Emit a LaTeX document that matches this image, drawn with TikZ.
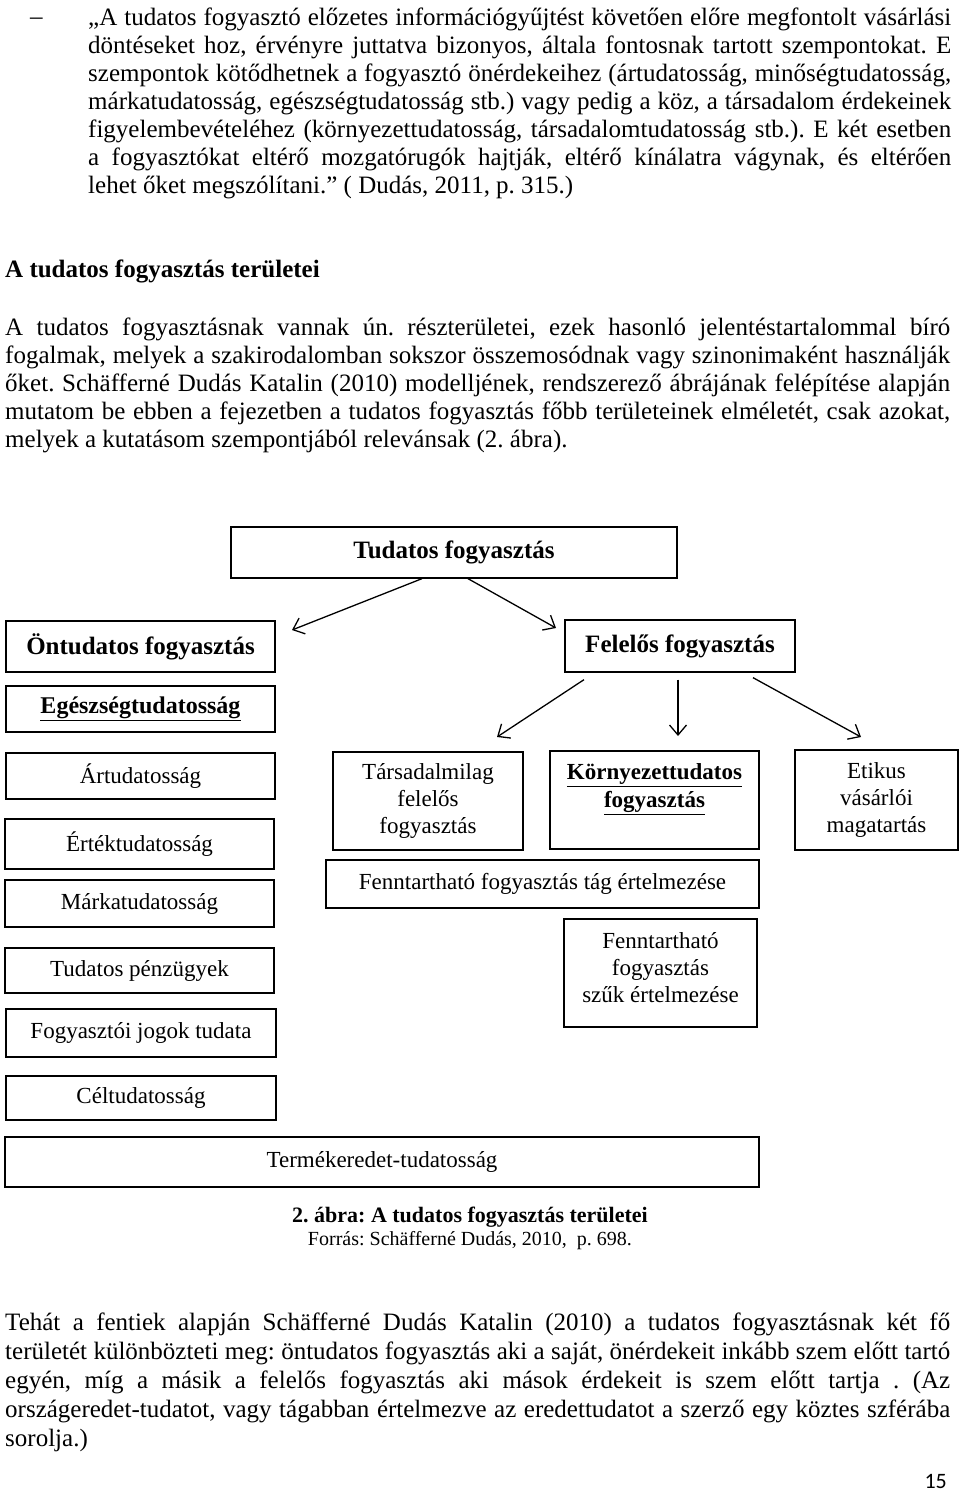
\documentclass[tikz,border=0pt]{standalone}
\usepackage{fontspec}
\setmainfont{Liberation Serif}
\newfontfamily\pagenumfont{Carlito}
\usetikzlibrary{arrows.meta}
\tolerance=9999
\hyphenpenalty=10000
\exhyphenpenalty=10000
\frenchspacing

\tikzset{
  box/.style={draw, line width=1.3pt, inner sep=0pt, align=center,
    font=\fontsize{23}{27}\selectfont},
  headbox/.style={box, font=\bfseries\fontsize{25}{29}\selectfont},
  para/.style={anchor=north west, inner sep=0pt, align=justify,
    font=\fontsize{25}{28}\selectfont},
  arr/.style={line width=1.3pt, -{Straight Barb[length=10pt,width=17pt]}}
}

\begin{document}
\begin{tikzpicture}[x=1pt,y=-1pt]
\useasboundingbox (0,0) rectangle (960,1496);

% idezet
\node[anchor=base west, inner sep=0pt, font=\fontsize{25}{28}\selectfont] (dash) at (30,25) {–};
\node[para, text width=863pt] (idezet) at (88,5.4) {\strut „A tudatos fogyasztó előzetes információgyűjtést követően előre megfontolt vásárlási\linebreak
döntéseket hoz, érvényre juttatva bizonyos, általa fontosnak tartott szempontokat. E\linebreak
szempontok kötődhetnek a fogyasztó önérdekeihez (ártudatosság, minőségtudatosság,\linebreak
márkatudatosság, egészségtudatosság stb.) vagy pedig a köz, a társadalom érdekeinek\linebreak
figyelembevételéhez (környezettudatosság, társadalomtudatosság stb.). E két esetben\linebreak
a fogyasztókat eltérő mozgatórugók hajtják, eltérő kínálatra vágynak, és eltérően\linebreak
lehet őket megszólítani.” ( Dudás, 2011, p. 315.)};

\node[anchor=base west, inner sep=0pt, font=\bfseries\fontsize{25}{28}\selectfont] (cim) at (5,277) {A tudatos fogyasztás területei};

\node[para, text width=945pt] (bevezeto) at (5,315.4) {\strut A tudatos fogyasztásnak vannak ún. részterületei, ezek hasonló jelentéstartalommal bíró\linebreak
fogalmak, melyek a szakirodalomban sokszor összemosódnak vagy szinonimaként használják\linebreak
őket. Schäfferné Dudás Katalin (2010) modelljének, rendszerező ábrájának felépítése alapján\linebreak
mutatom be ebben a fejezetben a tudatos fogyasztás főbb területeinek elméletét, csak azokat,\linebreak
melyek a kutatásom szempontjából relevánsak (2. ábra).};

% abra
\node[headbox, minimum width=446pt, minimum height=51pt] (tud) at (454,552.5) {Tudatos fogyasztás};
\node[headbox, minimum width=269pt, minimum height=51pt] (ont) at (140.5,646.5) {Öntudatos fogyasztás};
\node[headbox, minimum width=230pt, minimum height=52pt] (fel) at (680,646) {Felelős fogyasztás};
\node[box, font=\bfseries\fontsize{24}{28}\selectfont, minimum width=269pt, minimum height=46pt] (egesz) at (140.5,709) {\underline{Egészségtudatosság}};

\node[box, minimum width=269pt, minimum height=46pt] (ar) at (140.5,776) {Ártudatosság};
\node[box, minimum width=269pt, minimum height=50pt] (ertek) at (139.5,844) {Értéktudatosság};
\node[box, minimum width=269pt, minimum height=47pt] (marka) at (139.5,903.5) {Márkatudatosság};
\node[box, minimum width=269pt, minimum height=45pt] (penz) at (139.5,970.5) {Tudatos pénzügyek};
\node[box, minimum width=270pt, minimum height=48pt] (jog) at (141,1033) {Fogyasztói jogok tudata};
\node[box, minimum width=270pt, minimum height=44pt] (cel) at (141,1098) {Céltudatosság};
\node[box, minimum width=754pt, minimum height=50pt] (termek) at (382,1162) {Termékeredet-tudatosság};

\node[box, minimum width=190pt, minimum height=98pt] (tars) at (428,801) {Társadalmilag\\felelős\\fogyasztás};
\node[box, font=\bfseries\fontsize{23}{28}\selectfont, minimum width=209pt, minimum height=98pt] (korny) at (654.5,800) {\underline{Környezettudatos}\\\underline{fogyasztás}\\\mbox{}};
\node[box, minimum width=163pt, minimum height=100pt] (etikus) at (876.5,800) {Etikus\\vásárlói\\magatartás};
\node[box, minimum width=433pt, minimum height=48pt] (tag) at (542.5,884) {Fenntartható fogyasztás tág értelmezése};
\node[box, minimum width=193pt, minimum height=108pt, text depth=12pt] (szuk) at (660.5,973) {Fenntartható\\fogyasztás\\szűk értelmezése};

\coordinate (ontvég) at (292,630);
\coordinate (felvég) at (556,628);
\coordinate (tarsvég) at (497,737);
\coordinate (kornyvég) at (678,736);
\coordinate (etikusvég) at (861,737);

\draw[arr] ([xshift=-32pt]tud.south) -- (ontvég);
\draw[arr] ([xshift=14pt]tud.south) -- (felvég);
\draw[arr] ([shift={(-96,7)}]fel.south) -- (tarsvég);
\draw[arr] ([shift={(-2,7)}]fel.south) -- (kornyvég);
\draw[arr] ([shift={(73,5)}]fel.south) -- (etikusvég);

\node[anchor=base, inner sep=0pt, font=\bfseries\fontsize{22}{26}\selectfont] (abracim) at (470,1222) {2. ábra: A tudatos fogyasztás területei};
\node[anchor=base, inner sep=0pt, font=\fontsize{20}{24}\selectfont] (forras) at (470,1245) {Forrás: Schäfferné Dudás, 2010,\ \ p. 698.};

\node[para, text width=945pt, font=\fontsize{25}{29}\selectfont] (osszegzes) at (5,1309.7) {\strut Tehát a fentiek alapján Schäfferné Dudás Katalin (2010) a tudatos fogyasztásnak két fő\linebreak
területét különbözteti meg: öntudatos fogyasztás aki a saját, önérdekeit inkább szem előtt tartó\linebreak
egyén, míg a másik a felelős fogyasztás aki mások érdekeit is szem előtt tartja . (Az\linebreak
országeredet-tudatot, vagy tágabban értelmezve az eredettudatot a szerző egy köztes szférába\linebreak
sorolja.)};

\node[anchor=base east, inner sep=0pt, font=\pagenumfont\fontsize{22}{26}\selectfont] (oldal) at (947,1488) {15};
\end{tikzpicture}
\end{document}
